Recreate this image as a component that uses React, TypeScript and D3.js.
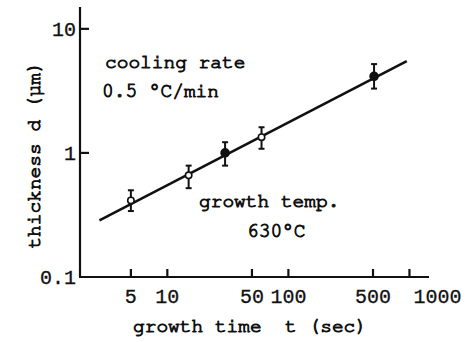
import React from 'react';
import * as d3 from 'd3';

// growth time (sec) of each sample
const times = [5, 15, 30, 60, 510];
// thickness d (um) and error bar limits
const thickness = [0.414, 0.66, 1.0, 1.34, 4.14];
const errLow = [0.34, 0.52, 0.79, 1.08, 3.3];
const errHigh = [0.5, 0.79, 1.22, 1.61, 5.2];
const filled = [false, false, true, false, true];

// fitted line d ~ t^0.5
const fitT = [2.75, 950];
const fitD = [0.286, 5.5];

const xTicks = [5, 10, 50, 100, 500, 1000];
const xTickLabels = ['5', '10', '50', '100', '500', '1000'];
const yTicks = [0.1, 1, 10];
const yTickLabels = ['0.1', '1', '10'];

const W = 467;
const H = 342;
const typewriter = 'FreeMono, "Nimbus Mono PS", monospace';
const digits = '"Liberation Mono", monospace';

export default function App() {
  // log scales on both axes
  const x = d3.scaleLog().domain([1.9, 1450]).range([80, 429]);
  const y = d3.scaleLog().domain([0.1, 15]).range([277, 7]);

  const line = d3
    .line<number>()
    .x((_, i) => x(fitT[i]))
    .y((d) => y(d));

  return (
    <svg
      width={W}
      height={H}
      style={{ position: 'absolute', left: 0, top: 0, background: '#fff' }}
    >
      {/* axes */}
      <g stroke="#111" strokeWidth={2.2} fill="none">
        <line x1={x(1.9)} x2={x(1.9)} y1={y(15)} y2={y(0.1)} />
        <line x1={x(1.9) - 1} x2={x(1450)} y1={y(0.1)} y2={y(0.1)} />
        {xTicks.map((t) => (
          <line key={t} x1={x(t)} x2={x(t)} y1={y(0.1)} y2={y(0.1) - 8} />
        ))}
        {yTicks.slice(1).map((t) => (
          <line key={t} x1={x(1.9)} x2={x(1.9) + 9} y1={y(t)} y2={y(t)} />
        ))}
      </g>

      {/* tick labels */}
      <g fontFamily={digits} fontSize={20} fill="#111" stroke="#111" strokeWidth={0.3}>
        {xTicks.map((t, i) => (
          <text
            key={t}
            x={x(t) + (t === 1000 ? 28 : 0)}
            y={303}
            textAnchor="middle"
          >
            {xTickLabels[i]}
          </text>
        ))}
        {yTicks.map((t, i) => (
          <text key={t} x={76} y={y(t) + 7} textAnchor="end">
            {yTickLabels[i]}
          </text>
        ))}
      </g>

      {/* axis titles */}
      <g fontFamily={typewriter} fontSize={19.5} fill="#111" stroke="#111" strokeWidth={1}>
        <text x={133} y={332} style={{ whiteSpace: 'pre' }}>
          {'growth time  t (sec)'}
        </text>
        <text transform="translate(40,155) rotate(-90)" textAnchor="middle">
          thickness d (μm)
        </text>
      </g>

      {/* fit line */}
      <path d={line(fitD) ?? ''} stroke="#111" strokeWidth={2.6} fill="none" />

      {/* error bars and points */}
      {times.map((t, i) => (
        <g key={t} stroke="#111" strokeWidth={2}>
          <line x1={x(t)} x2={x(t)} y1={y(errLow[i])} y2={y(errHigh[i])} />
          <line x1={x(t) - 3} x2={x(t) + 3} y1={y(errLow[i])} y2={y(errLow[i])} />
          <line x1={x(t) - 3} x2={x(t) + 3} y1={y(errHigh[i])} y2={y(errHigh[i])} />
          <circle
            cx={x(t)}
            cy={y(thickness[i])}
            r={filled[i] ? 4 : 3.2}
            fill={filled[i] ? '#111' : '#fff'}
            strokeWidth={1.6}
          />
        </g>
      ))}

      {/* annotations */}
      <g fontFamily={typewriter} fontSize={19.5} fill="#111" stroke="#111" strokeWidth={1}>
        <text x={105} y={68}>cooling rate</text>
        <text x={102} y={97}>0.5 °C/min</text>
        <text x={199} y={207}>growth temp.</text>
        <text x={247} y={237}>630°C</text>
      </g>
    </svg>
  );
}
